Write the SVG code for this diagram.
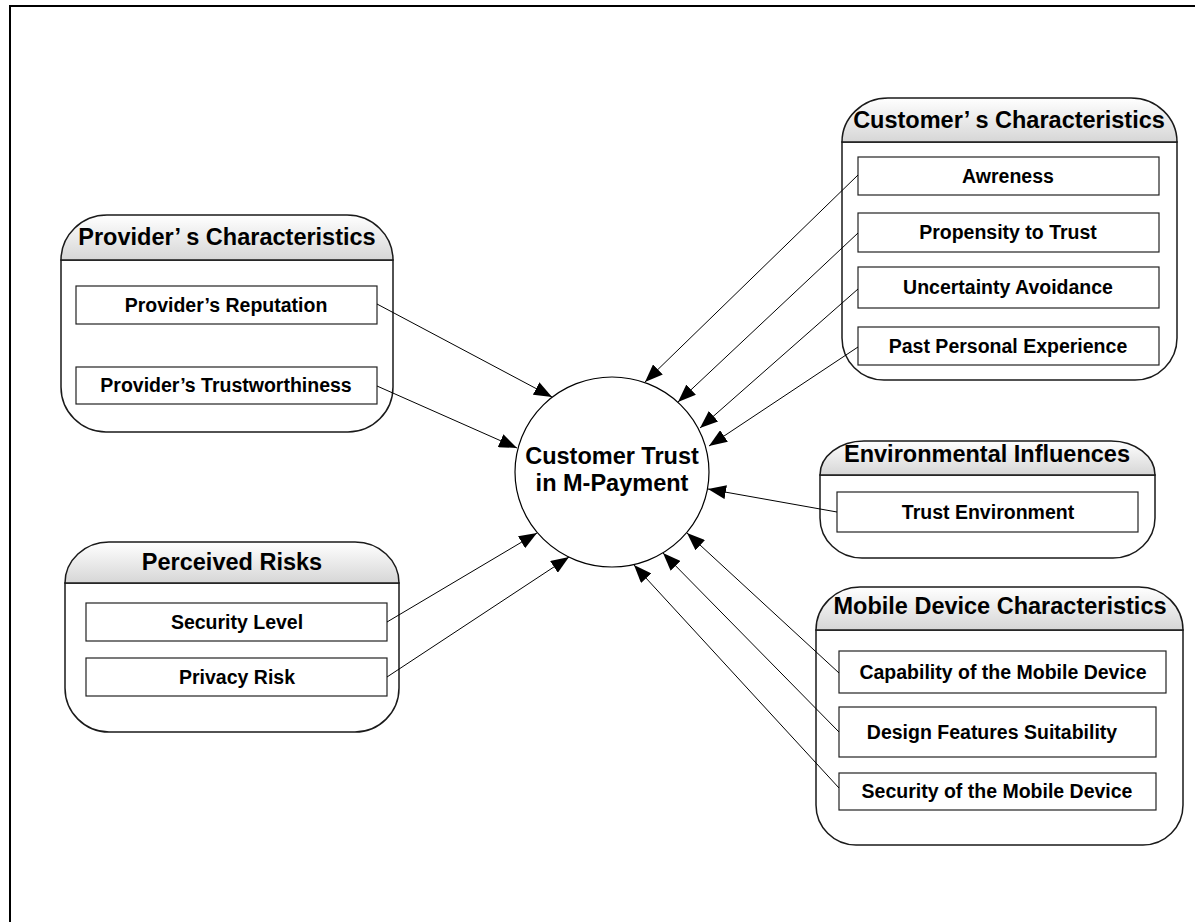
<svg xmlns="http://www.w3.org/2000/svg" width="1195" height="922" viewBox="0 0 1195 922">
  <defs>
    <linearGradient id="hdr" x1="0" y1="0" x2="0" y2="1">
      <stop offset="0" stop-color="#ffffff"/>
      <stop offset="1" stop-color="#d6d6d6"/>
    </linearGradient>
    <marker id="arrow" markerUnits="userSpaceOnUse" markerWidth="18" markerHeight="14" refX="18" refY="7" orient="auto">
      <path d="M0,0 L18,7 L0,14 Z" fill="#000"/>
    </marker>
  </defs>
  <style>
    .frame { fill: none; stroke: #000; stroke-width: 2; }
    .head { fill: url(#hdr); stroke: #1a1a1a; stroke-width: 1.5; }
    .body { fill: #fff; stroke: #1a1a1a; stroke-width: 1.5; }
    .item { fill: #fff; stroke: #222; stroke-width: 1.2; }
    .core { fill: #fff; stroke: #000; stroke-width: 1.2; }
    .title { font-family: "Liberation Sans", Arial, sans-serif; font-weight: bold; font-size: 23.5px; fill: #000; text-anchor: middle; }
    .label { font-family: "Liberation Sans", Arial, sans-serif; font-weight: bold; font-size: 19.5px; fill: #000; text-anchor: middle; }
    .link { fill: none; stroke: #000; stroke-width: 1; marker-end: url(#arrow); }
  </style>
  <rect width="1195" height="922" fill="#fff"/>

  <!-- page frame: top and left edges only -->
  <path class="frame" d="M10,922 L10,6 L1195,6"/>

  <!-- central construct -->
  <g id="trust">
    <ellipse class="core" cx="612" cy="472" rx="97" ry="95"/>
    <text class="title" x="612" y="464">Customer Trust</text>
    <text class="title" x="612" y="491">in M-Payment</text>
  </g>

  <!-- Provider's Characteristics -->
  <g id="provider">
    <path class="body" d="M61,260 L61,387 A45,45 0 0 0 106,432 L348,432 A45,45 0 0 0 393,387 L393,260 Z"/>
    <path class="head" d="M61,260 A46,45 0 0 1 107,215 L347,215 A46,45 0 0 1 393,260 Z"/>
    <text class="title" x="227" y="245">Provider’ s Characteristics</text>
    <rect class="item" x="76" y="286" width="301" height="38"/>
    <text class="label" x="226" y="312">Provider’s Reputation</text>
    <rect class="item" x="76" y="367" width="301" height="37"/>
    <text class="label" x="226" y="392">Provider’s Trustworthiness</text>
  </g>

  <!-- Perceived Risks -->
  <g id="risks">
    <path class="body" d="M65,583 L65,688 A44,44 0 0 0 109,732 L355,732 A44,44 0 0 0 399,688 L399,583 Z"/>
    <path class="head" d="M65,583 A44,41 0 0 1 109,542 L355,542 A44,41 0 0 1 399,583 Z"/>
    <text class="title" x="232" y="570">Perceived Risks</text>
    <rect class="item" x="86" y="603" width="301" height="38"/>
    <text class="label" x="237" y="629">Security Level</text>
    <rect class="item" x="86" y="658" width="301" height="38"/>
    <text class="label" x="237" y="684">Privacy Risk</text>
  </g>

  <!-- Customer's Characteristics -->
  <g id="customer">
    <path class="body" d="M842,142 L842,338 A42,42 0 0 0 884,380 L1135,380 A42,42 0 0 0 1177,338 L1177,142 Z"/>
    <path class="head" d="M842,142 A46,44 0 0 1 888,98 L1131,98 A46,44 0 0 1 1177,142 Z"/>
    <text class="title" x="1009" y="128">Customer’ s Characteristics</text>
    <rect class="item" x="858" y="157" width="301" height="38"/>
    <text class="label" x="1008" y="183">Awreness</text>
    <rect class="item" x="858" y="213" width="301" height="39"/>
    <text class="label" x="1008" y="239">Propensity to Trust</text>
    <rect class="item" x="858" y="267" width="301" height="41"/>
    <text class="label" x="1008" y="294">Uncertainty Avoidance</text>
    <rect class="item" x="858" y="327" width="301" height="38"/>
    <text class="label" x="1008" y="353">Past Personal Experience</text>
  </g>

  <!-- Environmental Influences -->
  <g id="environment">
    <path class="body" d="M820,475 L820,518 A42,40 0 0 0 862,558 L1113,558 A42,40 0 0 0 1155,518 L1155,475 Z"/>
    <path class="head" d="M820,475 A44,34 0 0 1 864,441 L1111,441 A44,34 0 0 1 1155,475 Z"/>
    <text class="title" x="987" y="462">Environmental Influences</text>
    <rect class="item" x="837" y="492" width="301" height="40"/>
    <text class="label" x="988" y="519">Trust Environment</text>
  </g>

  <!-- Mobile Device Characteristics -->
  <g id="device">
    <path class="body" d="M816,630 L816,805 A40,40 0 0 0 856,845 L1143,845 A40,40 0 0 0 1183,805 L1183,630 Z"/>
    <path class="head" d="M816,630 A44,43 0 0 1 860,587 L1139,587 A44,43 0 0 1 1183,630 Z"/>
    <text class="title" x="1000" y="614">Mobile Device Characteristics</text>
    <rect class="item" x="839" y="651" width="327" height="42"/>
    <text class="label" x="1003" y="679">Capability of the Mobile Device</text>
    <rect class="item" x="839" y="707" width="317" height="50"/>
    <text class="label" x="992" y="739">Design Features Suitability</text>
    <rect class="item" x="839" y="773" width="317" height="37"/>
    <text class="label" x="997" y="798">Security of the Mobile Device</text>
  </g>

  <!-- influence arrows into the central construct -->
  <g id="connectors">
    <line class="link" x1="377" y1="304" x2="552" y2="397"/>
    <line class="link" x1="377" y1="386" x2="517" y2="448"/>
    <line class="link" x1="387" y1="622" x2="537" y2="533"/>
    <line class="link" x1="387" y1="677" x2="569" y2="557"/>
    <line class="link" x1="858" y1="175" x2="645" y2="382"/>
    <line class="link" x1="858" y1="233" x2="678" y2="402"/>
    <line class="link" x1="858" y1="289" x2="700" y2="428"/>
    <line class="link" x1="858" y1="347" x2="709" y2="446"/>
    <line class="link" x1="837" y1="512" x2="708" y2="489"/>
    <line class="link" x1="839" y1="673" x2="687" y2="533"/>
    <line class="link" x1="839" y1="732" x2="663" y2="553"/>
    <line class="link" x1="839" y1="788" x2="634" y2="565"/>
  </g>
</svg>
